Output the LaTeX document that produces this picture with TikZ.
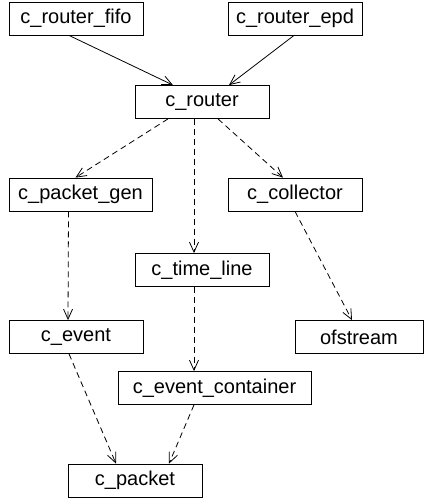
\documentclass[tikz,border=0pt]{standalone}
\usepackage{fontspec}
\setmainfont{Liberation Sans}
\usetikzlibrary{arrows.meta}

\tikzset{
  cls/.style={draw, line width=0.8pt, minimum width=134pt, minimum height=33pt,
    inner sep=0pt, font=\fontsize{20}{24}\selectfont},
  inh/.style={line width=0.8pt, -{Straight Barb[length=10pt,width=9pt]}},
  dep/.style={inh, dash pattern=on 6pt off 4pt},
}

\begin{document}
\begin{tikzpicture}[x=1pt, y=-1pt]
    \useasboundingbox (0,0) rectangle (424,499);
    \node[cls] (fifo) at (76,18.5) {c\_router\_fifo};
    \node[cls] (epd) at (295,18.5) {c\_router\_epd};
    \node[cls] (router) at (202,102) {c\_router};
    \node[cls, minimum width=143pt] (pgen) at (80.5,194.5) {c\_packet\_gen};
    \node[cls] (coll) at (295,194.5) {c\_collector};
    \node[cls] (tline) at (202,270) {c\_time\_line};
    \node[cls] (event) at (76,337) {c\_event};
    \node[cls, minimum width=128pt] (ofs) at (359,337) {ofstream};
    \node[cls, minimum width=193pt] (econt) at (214.5,388) {c\_event\_container};
    \node[cls] (packet) at (135,480.5) {c\_packet};
    % inheritance
    \draw[inh] ([xshift=-7pt]fifo.south) -- ([xshift=-29pt]router.north);
    \draw[inh] ([xshift=-1pt]epd.south) -- ([xshift=27pt]router.north);
    % usage
    \draw[dep] ([xshift=-34pt]router.south) -- ([xshift=-5pt]pgen.north);
    \draw[dep] ([xshift=-8pt]router.south) -- ([xshift=-8pt]tline.north);
    \draw[dep] ([xshift=16pt]router.south) -- ([xshift=-12pt]coll.north);
    \draw[dep] ([xshift=-12pt]pgen.south) -- ([xshift=-8pt]event.north);
    \draw[dep] (coll.south) -- ([xshift=-7pt]ofs.north);
    \draw[dep] ([xshift=-8pt]tline.south) -- ([xshift=-20.5pt]econt.north);
    \draw[dep] ([xshift=-7pt]event.south) -- ([xshift=-19pt]packet.north);
    \draw[dep] ([xshift=-20.5pt]econt.south) -- ([xshift=34pt]packet.north);
\end{tikzpicture}
\end{document}
